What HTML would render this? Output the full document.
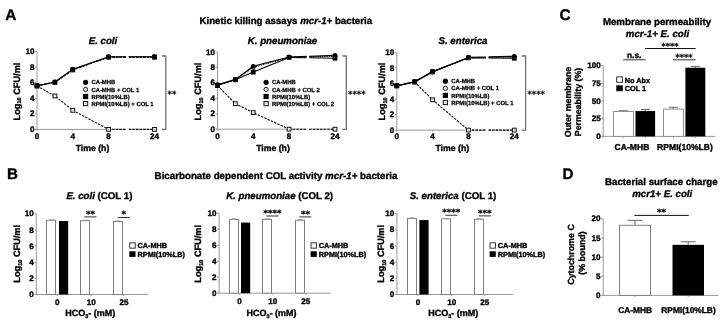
<!DOCTYPE html>
<html><head><meta charset="utf-8"><title>Figure</title>
<style>
html,body{margin:0;padding:0;background:#fff;}
body{width:720px;height:320px;overflow:hidden;}
svg{display:block;font-family:"Liberation Sans", Arial, Helvetica, sans-serif;filter:blur(0.25px);}
text{stroke:#000;stroke-width:0.35px;stroke-linejoin:round;text-rendering:geometricPrecision;}
</style></head><body>
<svg width="720" height="320" viewBox="0 0 720 320">
<rect x="0" y="0" width="720" height="320" fill="#fff"/>
<text x="5.30" y="20.10" font-size="15.4" text-anchor="start" font-weight="bold" font-style="normal" fill="#000" >A</text>
<text x="7.00" y="178.60" font-size="15.2" text-anchor="start" font-weight="bold" font-style="normal" fill="#000" >B</text>
<text x="559.40" y="19.90" font-size="15.4" text-anchor="start" font-weight="bold" font-style="normal" fill="#000" >C</text>
<text x="562.40" y="178.60" font-size="15.2" text-anchor="start" font-weight="bold" font-style="normal" fill="#000" >D</text>
<text x="199.50" y="24.20" font-size="9.7" text-anchor="start" font-weight="bold" font-style="normal" fill="#000" >Kinetic killing assays <tspan font-style="italic">mcr-1+</tspan> bacteria</text>
<text x="103.00" y="44.00" font-size="9.7" text-anchor="middle" font-weight="bold" font-style="italic" fill="#000" >E. coli</text>
<line x1="37.00" y1="51.70" x2="37.00" y2="129.90" stroke="#999" stroke-width="1" />
<line x1="35.00" y1="129.40" x2="37.00" y2="129.40" stroke="#999" stroke-width="1" />
<text x="34.40" y="132.00" font-size="8.1" text-anchor="end" font-weight="bold" font-style="normal" fill="#000" >0</text>
<line x1="35.00" y1="113.86" x2="37.00" y2="113.86" stroke="#999" stroke-width="1" />
<text x="34.40" y="116.46" font-size="8.1" text-anchor="end" font-weight="bold" font-style="normal" fill="#000" >2</text>
<line x1="35.00" y1="98.32" x2="37.00" y2="98.32" stroke="#999" stroke-width="1" />
<text x="34.40" y="100.92" font-size="8.1" text-anchor="end" font-weight="bold" font-style="normal" fill="#000" >4</text>
<line x1="35.00" y1="82.78" x2="37.00" y2="82.78" stroke="#999" stroke-width="1" />
<text x="34.40" y="85.38" font-size="8.1" text-anchor="end" font-weight="bold" font-style="normal" fill="#000" >6</text>
<line x1="35.00" y1="67.24" x2="37.00" y2="67.24" stroke="#999" stroke-width="1" />
<text x="34.40" y="69.84" font-size="8.1" text-anchor="end" font-weight="bold" font-style="normal" fill="#000" >8</text>
<line x1="35.00" y1="51.70" x2="37.00" y2="51.70" stroke="#999" stroke-width="1" />
<text x="34.40" y="54.30" font-size="8.1" text-anchor="end" font-weight="bold" font-style="normal" fill="#000" >10</text>
<line x1="35.80" y1="129.40" x2="126.20" y2="129.40" stroke="#999" stroke-width="1" />
<line x1="128.80" y1="129.40" x2="155.00" y2="129.40" stroke="#999" stroke-width="1" />
<line x1="37.00" y1="129.40" x2="37.00" y2="130.90" stroke="#999" stroke-width="1" />
<text x="37.00" y="139.10" font-size="8.1" text-anchor="middle" font-weight="bold" font-style="normal" fill="#000" >0</text>
<line x1="72.75" y1="129.40" x2="72.75" y2="130.90" stroke="#999" stroke-width="1" />
<text x="72.75" y="139.10" font-size="8.1" text-anchor="middle" font-weight="bold" font-style="normal" fill="#000" >4</text>
<line x1="108.60" y1="129.40" x2="108.60" y2="130.90" stroke="#999" stroke-width="1" />
<text x="108.60" y="139.10" font-size="8.1" text-anchor="middle" font-weight="bold" font-style="normal" fill="#000" >8</text>
<line x1="154.50" y1="129.40" x2="154.50" y2="130.90" stroke="#999" stroke-width="1" />
<text x="154.50" y="139.10" font-size="8.1" text-anchor="middle" font-weight="bold" font-style="normal" fill="#000" >24</text>
<text x="92.50" y="151.10" font-size="8.7" text-anchor="middle" font-weight="bold" font-style="normal" fill="#000" >Time (h)</text>
<text x="19.6" y="91.5" font-size="9.2" text-anchor="middle" font-weight="bold" transform="rotate(-90 19.6 91.5)">Log<tspan font-size="5.6" dy="1.8">10</tspan><tspan dy="-1.8"> CFU/ml</tspan></text>
<path d="M37.00,85.89 L54.90,95.99 L72.75,110.36 L108.60,129.40" fill="none" stroke="#000" stroke-width="1.1" stroke-dasharray="2.4,1.2"/>
<path d="M108.60,129.40 L126.20,129.40 M128.80,129.40 L154.50,129.40" fill="none" stroke="#000" stroke-width="1.1" stroke-dasharray="2.4,1.2"/>
<rect x="35.10" y="83.99" width="3.80" height="3.80" fill="#fff" stroke="#111" stroke-width="1.0"/>
<line x1="36.40" y1="85.89" x2="37.80" y2="85.89" stroke="#666" stroke-width="0.5"/>
<rect x="53.00" y="94.09" width="3.80" height="3.80" fill="#fff" stroke="#111" stroke-width="1.0"/>
<line x1="54.30" y1="95.99" x2="55.70" y2="95.99" stroke="#666" stroke-width="0.5"/>
<rect x="70.85" y="108.46" width="3.80" height="3.80" fill="#fff" stroke="#111" stroke-width="1.0"/>
<line x1="72.15" y1="110.36" x2="73.55" y2="110.36" stroke="#666" stroke-width="0.5"/>
<rect x="106.70" y="127.50" width="3.80" height="3.80" fill="#fff" stroke="#111" stroke-width="1.0"/>
<line x1="108.00" y1="129.40" x2="109.40" y2="129.40" stroke="#666" stroke-width="0.5"/>
<rect x="152.60" y="127.50" width="3.80" height="3.80" fill="#fff" stroke="#111" stroke-width="1.0"/>
<line x1="153.90" y1="129.40" x2="155.30" y2="129.40" stroke="#666" stroke-width="0.5"/>
<path d="M37.00,85.89 L54.90,82.39 L72.75,69.96 L108.60,57.14" fill="none" stroke="#000" stroke-width="1.1" stroke-dasharray="2.4,1.2"/>
<path d="M108.60,57.14 L126.20,57.14 M128.80,57.14 L154.50,57.14" fill="none" stroke="#000" stroke-width="1.1" stroke-dasharray="2.4,1.2"/>
<rect x="34.60" y="83.49" width="4.8" height="4.8" fill="#000"/>
<rect x="52.50" y="79.99" width="4.8" height="4.8" fill="#000"/>
<rect x="70.35" y="67.56" width="4.8" height="4.8" fill="#000"/>
<rect x="106.20" y="54.74" width="4.8" height="4.8" fill="#000"/>
<rect x="152.10" y="54.74" width="4.8" height="4.8" fill="#000"/>
<path d="M37.00,85.89 L54.90,82.00 L72.75,69.57 L108.60,57.14" fill="none" stroke="#000" stroke-width="1.1" stroke-dasharray="1,0.8"/>
<path d="M108.60,57.14 L126.20,57.14 M128.80,57.14 L154.50,57.14" fill="none" stroke="#000" stroke-width="1.1" stroke-dasharray="1,0.8"/>
<circle cx="37.00" cy="85.89" r="1.90" fill="#fff" stroke="#111" stroke-width="1.0"/>
<line x1="36.40" y1="85.89" x2="37.80" y2="85.89" stroke="#666" stroke-width="0.5"/>
<circle cx="54.90" cy="82.00" r="1.90" fill="#fff" stroke="#111" stroke-width="1.0"/>
<line x1="54.30" y1="82.00" x2="55.70" y2="82.00" stroke="#666" stroke-width="0.5"/>
<circle cx="72.75" cy="69.57" r="1.90" fill="#fff" stroke="#111" stroke-width="1.0"/>
<line x1="72.15" y1="69.57" x2="73.55" y2="69.57" stroke="#666" stroke-width="0.5"/>
<circle cx="108.60" cy="57.14" r="1.90" fill="#fff" stroke="#111" stroke-width="1.0"/>
<line x1="108.00" y1="57.14" x2="109.40" y2="57.14" stroke="#666" stroke-width="0.5"/>
<circle cx="154.50" cy="57.14" r="1.90" fill="#fff" stroke="#111" stroke-width="1.0"/>
<line x1="153.90" y1="57.14" x2="155.30" y2="57.14" stroke="#666" stroke-width="0.5"/>
<path d="M37.00,85.89 L54.90,82.00 L72.75,69.18 L108.60,56.75" fill="none" stroke="#000" stroke-width="1.2" />
<path d="M108.60,56.75 L126.20,56.75 M128.80,56.75 L154.50,56.75" fill="none" stroke="#000" stroke-width="1.2" />
<circle cx="37.00" cy="85.89" r="2.4" fill="#000"/>
<circle cx="54.90" cy="82.00" r="2.4" fill="#000"/>
<circle cx="72.75" cy="69.18" r="2.4" fill="#000"/>
<circle cx="108.60" cy="56.75" r="2.4" fill="#000"/>
<circle cx="154.50" cy="56.75" r="2.4" fill="#000"/>
<path d="M161.90,56 H165.80 V129.50 H161.90" fill="none" stroke="#707070" stroke-width="1.3"/>
<text x="167.60" y="97.31" font-size="8.4" text-anchor="start" font-weight="bold" font-style="normal" fill="#000" font-family="DejaVu Sans, sans-serif" style="stroke-width:0.2px">**</text>
<circle cx="85.60" cy="82.30" r="2.6" fill="#000"/>
<text x="91.40" y="84.40" font-size="5.9" text-anchor="start" font-weight="bold" font-style="normal" fill="#000" style="stroke-width:0.25px">CA-MHB</text>
<circle cx="85.60" cy="89.40" r="2.10" fill="#fff" stroke="#111" stroke-width="1.0"/>
<line x1="85.00" y1="89.40" x2="86.40" y2="89.40" stroke="#666" stroke-width="0.5"/>
<text x="91.40" y="91.50" font-size="5.9" text-anchor="start" font-weight="bold" font-style="normal" fill="#000" style="stroke-width:0.25px">CA-MHB + COL 1</text>
<rect x="83.00" y="93.90" width="5.2" height="5.2" fill="#000"/>
<text x="91.40" y="98.60" font-size="5.9" text-anchor="start" font-weight="bold" font-style="normal" fill="#000" style="stroke-width:0.25px">RPMI(10%LB)</text>
<rect x="83.50" y="101.50" width="4.20" height="4.20" fill="#fff" stroke="#111" stroke-width="1.0"/>
<line x1="85.00" y1="103.60" x2="86.40" y2="103.60" stroke="#666" stroke-width="0.5"/>
<text x="91.40" y="105.70" font-size="5.9" text-anchor="start" font-weight="bold" font-style="normal" fill="#000" style="stroke-width:0.25px">RPMI(10%LB) + COL 1</text>
<text x="282.50" y="44.00" font-size="9.7" text-anchor="middle" font-weight="bold" font-style="italic" fill="#000" >K. pneumoniae</text>
<line x1="217.50" y1="52.00" x2="217.50" y2="129.70" stroke="#999" stroke-width="1" />
<line x1="215.50" y1="129.20" x2="217.50" y2="129.20" stroke="#999" stroke-width="1" />
<text x="214.90" y="131.80" font-size="8.1" text-anchor="end" font-weight="bold" font-style="normal" fill="#000" >0</text>
<line x1="215.50" y1="113.76" x2="217.50" y2="113.76" stroke="#999" stroke-width="1" />
<text x="214.90" y="116.36" font-size="8.1" text-anchor="end" font-weight="bold" font-style="normal" fill="#000" >2</text>
<line x1="215.50" y1="98.32" x2="217.50" y2="98.32" stroke="#999" stroke-width="1" />
<text x="214.90" y="100.92" font-size="8.1" text-anchor="end" font-weight="bold" font-style="normal" fill="#000" >4</text>
<line x1="215.50" y1="82.88" x2="217.50" y2="82.88" stroke="#999" stroke-width="1" />
<text x="214.90" y="85.48" font-size="8.1" text-anchor="end" font-weight="bold" font-style="normal" fill="#000" >6</text>
<line x1="215.50" y1="67.44" x2="217.50" y2="67.44" stroke="#999" stroke-width="1" />
<text x="214.90" y="70.04" font-size="8.1" text-anchor="end" font-weight="bold" font-style="normal" fill="#000" >8</text>
<line x1="215.50" y1="52.00" x2="217.50" y2="52.00" stroke="#999" stroke-width="1" />
<text x="214.90" y="54.60" font-size="8.1" text-anchor="end" font-weight="bold" font-style="normal" fill="#000" >10</text>
<line x1="216.30" y1="129.20" x2="306.70" y2="129.20" stroke="#999" stroke-width="1" />
<line x1="309.30" y1="129.20" x2="335.50" y2="129.20" stroke="#999" stroke-width="1" />
<line x1="217.50" y1="129.20" x2="217.50" y2="130.70" stroke="#999" stroke-width="1" />
<text x="217.50" y="139.10" font-size="8.1" text-anchor="middle" font-weight="bold" font-style="normal" fill="#000" >0</text>
<line x1="253.25" y1="129.20" x2="253.25" y2="130.70" stroke="#999" stroke-width="1" />
<text x="253.25" y="139.10" font-size="8.1" text-anchor="middle" font-weight="bold" font-style="normal" fill="#000" >4</text>
<line x1="289.10" y1="129.20" x2="289.10" y2="130.70" stroke="#999" stroke-width="1" />
<text x="289.10" y="139.10" font-size="8.1" text-anchor="middle" font-weight="bold" font-style="normal" fill="#000" >8</text>
<line x1="335.00" y1="129.20" x2="335.00" y2="130.70" stroke="#999" stroke-width="1" />
<text x="335.00" y="139.10" font-size="8.1" text-anchor="middle" font-weight="bold" font-style="normal" fill="#000" >24</text>
<text x="273.00" y="151.10" font-size="8.7" text-anchor="middle" font-weight="bold" font-style="normal" fill="#000" >Time (h)</text>
<text x="201.1" y="91.5" font-size="9.2" text-anchor="middle" font-weight="bold" transform="rotate(-90 201.1 91.5)">Log<tspan font-size="5.6" dy="1.8">10</tspan><tspan dy="-1.8"> CFU/ml</tspan></text>
<path d="M217.50,85.58 L235.40,103.72 L253.25,112.60 L289.10,129.20" fill="none" stroke="#000" stroke-width="1.1" stroke-dasharray="2.4,1.2"/>
<path d="M289.10,129.20 L306.70,129.20 M309.30,129.20 L335.00,129.20" fill="none" stroke="#000" stroke-width="1.1" stroke-dasharray="2.4,1.2"/>
<rect x="215.60" y="83.68" width="3.80" height="3.80" fill="#fff" stroke="#111" stroke-width="1.0"/>
<line x1="216.90" y1="85.58" x2="218.30" y2="85.58" stroke="#666" stroke-width="0.5"/>
<rect x="233.50" y="101.82" width="3.80" height="3.80" fill="#fff" stroke="#111" stroke-width="1.0"/>
<line x1="234.80" y1="103.72" x2="236.20" y2="103.72" stroke="#666" stroke-width="0.5"/>
<rect x="251.35" y="110.70" width="3.80" height="3.80" fill="#fff" stroke="#111" stroke-width="1.0"/>
<line x1="252.65" y1="112.60" x2="254.05" y2="112.60" stroke="#666" stroke-width="0.5"/>
<rect x="287.20" y="127.30" width="3.80" height="3.80" fill="#fff" stroke="#111" stroke-width="1.0"/>
<line x1="288.50" y1="129.20" x2="289.90" y2="129.20" stroke="#666" stroke-width="0.5"/>
<rect x="333.10" y="127.30" width="3.80" height="3.80" fill="#fff" stroke="#111" stroke-width="1.0"/>
<line x1="334.40" y1="129.20" x2="335.80" y2="129.20" stroke="#666" stroke-width="0.5"/>
<path d="M217.50,85.20 L235.40,79.79 L253.25,72.07 L289.10,57.40" fill="none" stroke="#000" stroke-width="1.1" />
<path d="M289.10,57.40 L306.70,57.70 M309.30,57.74 L335.00,58.18" fill="none" stroke="#000" stroke-width="1.1" />
<rect x="215.10" y="82.80" width="4.8" height="4.8" fill="#000"/>
<rect x="233.00" y="77.39" width="4.8" height="4.8" fill="#000"/>
<rect x="250.85" y="69.67" width="4.8" height="4.8" fill="#000"/>
<rect x="286.70" y="55.00" width="4.8" height="4.8" fill="#000"/>
<rect x="332.60" y="55.78" width="4.8" height="4.8" fill="#000"/>
<path d="M217.50,85.20 L235.40,79.79 L253.25,67.44 L289.10,57.40" fill="none" stroke="#000" stroke-width="1.1" stroke-dasharray="1,0.8"/>
<path d="M289.10,57.40 L306.70,56.96 M309.30,56.89 L335.00,56.25" fill="none" stroke="#000" stroke-width="1.1" stroke-dasharray="1,0.8"/>
<circle cx="217.50" cy="85.20" r="1.90" fill="#fff" stroke="#111" stroke-width="1.0"/>
<line x1="216.90" y1="85.20" x2="218.30" y2="85.20" stroke="#666" stroke-width="0.5"/>
<circle cx="235.40" cy="79.79" r="1.90" fill="#fff" stroke="#111" stroke-width="1.0"/>
<line x1="234.80" y1="79.79" x2="236.20" y2="79.79" stroke="#666" stroke-width="0.5"/>
<circle cx="253.25" cy="67.44" r="1.90" fill="#fff" stroke="#111" stroke-width="1.0"/>
<line x1="252.65" y1="67.44" x2="254.05" y2="67.44" stroke="#666" stroke-width="0.5"/>
<circle cx="289.10" cy="57.40" r="1.90" fill="#fff" stroke="#111" stroke-width="1.0"/>
<line x1="288.50" y1="57.40" x2="289.90" y2="57.40" stroke="#666" stroke-width="0.5"/>
<circle cx="335.00" cy="56.25" r="1.90" fill="#fff" stroke="#111" stroke-width="1.0"/>
<line x1="334.40" y1="56.25" x2="335.80" y2="56.25" stroke="#666" stroke-width="0.5"/>
<path d="M217.50,84.81 L235.40,79.41 L253.25,66.28 L289.10,57.02" fill="none" stroke="#000" stroke-width="1.2" />
<path d="M289.10,57.02 L306.70,56.43 M309.30,56.34 L335.00,55.47" fill="none" stroke="#000" stroke-width="1.2" />
<circle cx="217.50" cy="84.81" r="2.4" fill="#000"/>
<circle cx="235.40" cy="79.41" r="2.4" fill="#000"/>
<circle cx="253.25" cy="66.28" r="2.4" fill="#000"/>
<circle cx="289.10" cy="57.02" r="2.4" fill="#000"/>
<circle cx="335.00" cy="55.47" r="2.4" fill="#000"/>
<path d="M342.40,56 H346.30 V129.30 H342.40" fill="none" stroke="#707070" stroke-width="1.3"/>
<text x="348.10" y="97.31" font-size="8.4" text-anchor="start" font-weight="bold" font-style="normal" fill="#000" font-family="DejaVu Sans, sans-serif" style="stroke-width:0.2px">****</text>
<circle cx="266.10" cy="82.30" r="2.6" fill="#000"/>
<text x="271.90" y="84.40" font-size="5.9" text-anchor="start" font-weight="bold" font-style="normal" fill="#000" style="stroke-width:0.25px">CA-MHB</text>
<circle cx="266.10" cy="89.40" r="2.10" fill="#fff" stroke="#111" stroke-width="1.0"/>
<line x1="265.50" y1="89.40" x2="266.90" y2="89.40" stroke="#666" stroke-width="0.5"/>
<text x="271.90" y="91.50" font-size="5.9" text-anchor="start" font-weight="bold" font-style="normal" fill="#000" style="stroke-width:0.25px">CA-MHB + COL 2</text>
<rect x="263.50" y="93.90" width="5.2" height="5.2" fill="#000"/>
<text x="271.90" y="98.60" font-size="5.9" text-anchor="start" font-weight="bold" font-style="normal" fill="#000" style="stroke-width:0.25px">RPMI(10%LB)</text>
<rect x="264.00" y="101.50" width="4.20" height="4.20" fill="#fff" stroke="#111" stroke-width="1.0"/>
<line x1="265.50" y1="103.60" x2="266.90" y2="103.60" stroke="#666" stroke-width="0.5"/>
<text x="271.90" y="105.70" font-size="5.9" text-anchor="start" font-weight="bold" font-style="normal" fill="#000" style="stroke-width:0.25px">RPMI(10%LB) + COL 2</text>
<text x="463.00" y="44.00" font-size="9.7" text-anchor="middle" font-weight="bold" font-style="italic" fill="#000" >S. enterica</text>
<line x1="396.80" y1="52.40" x2="396.80" y2="130.60" stroke="#999" stroke-width="1" />
<line x1="394.80" y1="130.10" x2="396.80" y2="130.10" stroke="#999" stroke-width="1" />
<text x="394.20" y="132.70" font-size="8.1" text-anchor="end" font-weight="bold" font-style="normal" fill="#000" >0</text>
<line x1="394.80" y1="114.56" x2="396.80" y2="114.56" stroke="#999" stroke-width="1" />
<text x="394.20" y="117.16" font-size="8.1" text-anchor="end" font-weight="bold" font-style="normal" fill="#000" >2</text>
<line x1="394.80" y1="99.02" x2="396.80" y2="99.02" stroke="#999" stroke-width="1" />
<text x="394.20" y="101.62" font-size="8.1" text-anchor="end" font-weight="bold" font-style="normal" fill="#000" >4</text>
<line x1="394.80" y1="83.48" x2="396.80" y2="83.48" stroke="#999" stroke-width="1" />
<text x="394.20" y="86.08" font-size="8.1" text-anchor="end" font-weight="bold" font-style="normal" fill="#000" >6</text>
<line x1="394.80" y1="67.94" x2="396.80" y2="67.94" stroke="#999" stroke-width="1" />
<text x="394.20" y="70.54" font-size="8.1" text-anchor="end" font-weight="bold" font-style="normal" fill="#000" >8</text>
<line x1="394.80" y1="52.40" x2="396.80" y2="52.40" stroke="#999" stroke-width="1" />
<text x="394.20" y="55.00" font-size="8.1" text-anchor="end" font-weight="bold" font-style="normal" fill="#000" >10</text>
<line x1="395.60" y1="130.10" x2="486.00" y2="130.10" stroke="#999" stroke-width="1" />
<line x1="488.60" y1="130.10" x2="514.80" y2="130.10" stroke="#999" stroke-width="1" />
<line x1="396.80" y1="130.10" x2="396.80" y2="131.60" stroke="#999" stroke-width="1" />
<text x="396.80" y="139.10" font-size="8.1" text-anchor="middle" font-weight="bold" font-style="normal" fill="#000" >0</text>
<line x1="432.55" y1="130.10" x2="432.55" y2="131.60" stroke="#999" stroke-width="1" />
<text x="432.55" y="139.10" font-size="8.1" text-anchor="middle" font-weight="bold" font-style="normal" fill="#000" >4</text>
<line x1="468.40" y1="130.10" x2="468.40" y2="131.60" stroke="#999" stroke-width="1" />
<text x="468.40" y="139.10" font-size="8.1" text-anchor="middle" font-weight="bold" font-style="normal" fill="#000" >8</text>
<line x1="514.30" y1="130.10" x2="514.30" y2="131.60" stroke="#999" stroke-width="1" />
<text x="514.30" y="139.10" font-size="8.1" text-anchor="middle" font-weight="bold" font-style="normal" fill="#000" >24</text>
<text x="452.30" y="151.10" font-size="8.7" text-anchor="middle" font-weight="bold" font-style="normal" fill="#000" >Time (h)</text>
<text x="385.40000000000003" y="91.5" font-size="9.2" text-anchor="middle" font-weight="bold" transform="rotate(-90 385.40000000000003 91.5)">Log<tspan font-size="5.6" dy="1.8">10</tspan><tspan dy="-1.8"> CFU/ml</tspan></text>
<path d="M396.80,85.81 L414.70,81.93 L432.55,99.80 L468.40,130.10" fill="none" stroke="#000" stroke-width="1.1" stroke-dasharray="2.4,1.2"/>
<path d="M468.40,130.10 L486.00,130.10 M488.60,130.10 L514.30,130.10" fill="none" stroke="#000" stroke-width="1.1" stroke-dasharray="2.4,1.2"/>
<rect x="394.90" y="83.91" width="3.80" height="3.80" fill="#fff" stroke="#111" stroke-width="1.0"/>
<line x1="396.20" y1="85.81" x2="397.60" y2="85.81" stroke="#666" stroke-width="0.5"/>
<rect x="412.80" y="80.03" width="3.80" height="3.80" fill="#fff" stroke="#111" stroke-width="1.0"/>
<line x1="414.10" y1="81.93" x2="415.50" y2="81.93" stroke="#666" stroke-width="0.5"/>
<rect x="430.65" y="97.90" width="3.80" height="3.80" fill="#fff" stroke="#111" stroke-width="1.0"/>
<line x1="431.95" y1="99.80" x2="433.35" y2="99.80" stroke="#666" stroke-width="0.5"/>
<rect x="466.50" y="128.20" width="3.80" height="3.80" fill="#fff" stroke="#111" stroke-width="1.0"/>
<line x1="467.80" y1="130.10" x2="469.20" y2="130.10" stroke="#666" stroke-width="0.5"/>
<rect x="512.40" y="128.20" width="3.80" height="3.80" fill="#fff" stroke="#111" stroke-width="1.0"/>
<line x1="513.70" y1="130.10" x2="515.10" y2="130.10" stroke="#666" stroke-width="0.5"/>
<path d="M396.80,85.81 L414.70,81.93 L432.55,71.83 L468.40,57.84" fill="none" stroke="#000" stroke-width="1.1" />
<path d="M468.40,57.84 L486.00,57.99 M488.60,58.01 L514.30,58.23" fill="none" stroke="#000" stroke-width="1.1" />
<rect x="394.40" y="83.41" width="4.8" height="4.8" fill="#000"/>
<rect x="412.30" y="79.53" width="4.8" height="4.8" fill="#000"/>
<rect x="430.15" y="69.42" width="4.8" height="4.8" fill="#000"/>
<rect x="466.00" y="55.44" width="4.8" height="4.8" fill="#000"/>
<rect x="511.90" y="55.83" width="4.8" height="4.8" fill="#000"/>
<path d="M396.80,85.81 L414.70,81.93 L432.55,72.21 L468.40,57.84" fill="none" stroke="#000" stroke-width="1.1" stroke-dasharray="1,0.8"/>
<path d="M468.40,57.84 L486.00,57.54 M488.60,57.50 L514.30,57.06" fill="none" stroke="#000" stroke-width="1.1" stroke-dasharray="1,0.8"/>
<circle cx="396.80" cy="85.81" r="1.90" fill="#fff" stroke="#111" stroke-width="1.0"/>
<line x1="396.20" y1="85.81" x2="397.60" y2="85.81" stroke="#666" stroke-width="0.5"/>
<circle cx="414.70" cy="81.93" r="1.90" fill="#fff" stroke="#111" stroke-width="1.0"/>
<line x1="414.10" y1="81.93" x2="415.50" y2="81.93" stroke="#666" stroke-width="0.5"/>
<circle cx="432.55" cy="72.21" r="1.90" fill="#fff" stroke="#111" stroke-width="1.0"/>
<line x1="431.95" y1="72.21" x2="433.35" y2="72.21" stroke="#666" stroke-width="0.5"/>
<circle cx="468.40" cy="57.84" r="1.90" fill="#fff" stroke="#111" stroke-width="1.0"/>
<line x1="467.80" y1="57.84" x2="469.20" y2="57.84" stroke="#666" stroke-width="0.5"/>
<circle cx="514.30" cy="57.06" r="1.90" fill="#fff" stroke="#111" stroke-width="1.0"/>
<line x1="513.70" y1="57.06" x2="515.10" y2="57.06" stroke="#666" stroke-width="0.5"/>
<path d="M396.80,85.81 L414.70,81.54 L432.55,71.44 L468.40,57.45" fill="none" stroke="#000" stroke-width="1.2" />
<path d="M468.40,57.45 L486.00,57.00 M488.60,56.94 L514.30,56.29" fill="none" stroke="#000" stroke-width="1.2" />
<circle cx="396.80" cy="85.81" r="2.4" fill="#000"/>
<circle cx="414.70" cy="81.54" r="2.4" fill="#000"/>
<circle cx="432.55" cy="71.44" r="2.4" fill="#000"/>
<circle cx="468.40" cy="57.45" r="2.4" fill="#000"/>
<circle cx="514.30" cy="56.29" r="2.4" fill="#000"/>
<path d="M521.70,56 H525.60 V130.20 H521.70" fill="none" stroke="#707070" stroke-width="1.3"/>
<text x="527.40" y="97.31" font-size="8.4" text-anchor="start" font-weight="bold" font-style="normal" fill="#000" font-family="DejaVu Sans, sans-serif" style="stroke-width:0.2px">****</text>
<circle cx="445.40" cy="81.20" r="2.6" fill="#000"/>
<text x="451.20" y="83.30" font-size="5.9" text-anchor="start" font-weight="bold" font-style="normal" fill="#000" style="stroke-width:0.25px">CA-MHB</text>
<circle cx="445.40" cy="88.30" r="2.10" fill="#fff" stroke="#111" stroke-width="1.0"/>
<line x1="444.80" y1="88.30" x2="446.20" y2="88.30" stroke="#666" stroke-width="0.5"/>
<text x="451.20" y="90.40" font-size="5.9" text-anchor="start" font-weight="bold" font-style="normal" fill="#000" style="stroke-width:0.25px">CA-MHB + COL 1</text>
<rect x="442.80" y="92.80" width="5.2" height="5.2" fill="#000"/>
<text x="451.20" y="97.50" font-size="5.9" text-anchor="start" font-weight="bold" font-style="normal" fill="#000" style="stroke-width:0.25px">RPMI(10%LB)</text>
<rect x="443.30" y="100.40" width="4.20" height="4.20" fill="#fff" stroke="#111" stroke-width="1.0"/>
<line x1="444.80" y1="102.50" x2="446.20" y2="102.50" stroke="#666" stroke-width="0.5"/>
<text x="451.20" y="104.60" font-size="5.9" text-anchor="start" font-weight="bold" font-style="normal" fill="#000" style="stroke-width:0.25px">RPMI(10%LB) + COL 1</text>
<text x="154.60" y="179.40" font-size="9.75" text-anchor="start" font-weight="bold" font-style="normal" fill="#000" >Bicarbonate dependent COL activity <tspan font-style="italic">mcr-1+</tspan> bacteria</text>
<text x="99.40" y="199.30" font-size="9.7" text-anchor="middle" font-weight="bold" font-style="normal" fill="#000" ><tspan font-style="italic">E. coli</tspan> (COL 1)</text>
<line x1="36.30" y1="213.80" x2="36.30" y2="295.00" stroke="#999" stroke-width="1" />
<line x1="34.30" y1="294.50" x2="36.30" y2="294.50" stroke="#999" stroke-width="1" />
<text x="33.70" y="297.10" font-size="8.1" text-anchor="end" font-weight="bold" font-style="normal" fill="#000" >0</text>
<line x1="34.30" y1="278.36" x2="36.30" y2="278.36" stroke="#999" stroke-width="1" />
<text x="33.70" y="280.96" font-size="8.1" text-anchor="end" font-weight="bold" font-style="normal" fill="#000" >2</text>
<line x1="34.30" y1="262.22" x2="36.30" y2="262.22" stroke="#999" stroke-width="1" />
<text x="33.70" y="264.82" font-size="8.1" text-anchor="end" font-weight="bold" font-style="normal" fill="#000" >4</text>
<line x1="34.30" y1="246.08" x2="36.30" y2="246.08" stroke="#999" stroke-width="1" />
<text x="33.70" y="248.68" font-size="8.1" text-anchor="end" font-weight="bold" font-style="normal" fill="#000" >6</text>
<line x1="34.30" y1="229.94" x2="36.30" y2="229.94" stroke="#999" stroke-width="1" />
<text x="33.70" y="232.54" font-size="8.1" text-anchor="end" font-weight="bold" font-style="normal" fill="#000" >8</text>
<line x1="34.30" y1="213.80" x2="36.30" y2="213.80" stroke="#999" stroke-width="1" />
<text x="33.70" y="216.40" font-size="8.1" text-anchor="end" font-weight="bold" font-style="normal" fill="#000" >10</text>
<line x1="35.30" y1="294.50" x2="148.10" y2="294.50" stroke="#999" stroke-width="1" />
<text x="20.299999999999997" y="253.8" font-size="9.2" text-anchor="middle" font-weight="bold" transform="rotate(-90 20.299999999999997 253.8)">Log<tspan font-size="5.6" dy="1.8">10</tspan><tspan dy="-1.8"> CFU/ml</tspan></text>
<line x1="57.35" y1="294.50" x2="57.35" y2="296.10" stroke="#999" stroke-width="1" />
<text x="57.35" y="304.90" font-size="8.1" text-anchor="middle" font-weight="bold" font-style="normal" fill="#000" >0</text>
<rect x="46.50" y="220.26" width="9.00" height="74.24" fill="#fff" stroke="#808080" stroke-width="1.0" />
<line x1="49.00" y1="219.76" x2="54.00" y2="219.76" stroke="#8a8a8a" stroke-width="0.8" />
<rect x="59.00" y="221.06" width="9.20" height="73.44" fill="#000" stroke="none" stroke-width="1" />
<line x1="91.15" y1="294.50" x2="91.15" y2="296.10" stroke="#999" stroke-width="1" />
<text x="91.15" y="304.90" font-size="8.1" text-anchor="middle" font-weight="bold" font-style="normal" fill="#000" >10</text>
<rect x="80.50" y="220.66" width="9.00" height="73.84" fill="#fff" stroke="#808080" stroke-width="1.0" />
<line x1="82.80" y1="220.16" x2="87.80" y2="220.16" stroke="#8a8a8a" stroke-width="0.8" />
<line x1="123.95" y1="294.50" x2="123.95" y2="296.10" stroke="#999" stroke-width="1" />
<text x="123.95" y="304.90" font-size="8.1" text-anchor="middle" font-weight="bold" font-style="normal" fill="#000" >25</text>
<rect x="113.50" y="221.47" width="9.00" height="73.03" fill="#fff" stroke="#808080" stroke-width="1.0" />
<line x1="115.60" y1="220.97" x2="120.60" y2="220.97" stroke="#8a8a8a" stroke-width="0.8" />
<text x="90.30" y="316.00" font-size="9.0" text-anchor="middle" font-weight="bold" font-style="normal" fill="#000" >HCO<tspan font-size="5.5" dy="1.8">3</tspan><tspan dy="-1.8">- (mM)</tspan></text>
<line x1="84.40" y1="216.90" x2="96.50" y2="216.90" stroke="#333" stroke-width="1" />
<text x="90.60" y="216.71" font-size="8.6" text-anchor="middle" font-weight="bold" font-style="normal" fill="#000" font-family="DejaVu Sans, sans-serif" style="stroke-width:0.2px">**</text>
<line x1="117.75" y1="217.50" x2="130.00" y2="217.50" stroke="#333" stroke-width="1" />
<text x="123.75" y="217.41" font-size="8.6" text-anchor="middle" font-weight="bold" font-style="normal" fill="#000" font-family="DejaVu Sans, sans-serif" style="stroke-width:0.2px">*</text>
<rect x="129.75" y="242.85" width="5.50" height="5.30" fill="#fff" stroke="#222" stroke-width="0.9" />
<rect x="129.30" y="251.30" width="6.20" height="5.60" fill="#000" stroke="none" stroke-width="1" />
<text x="137.50" y="248.30" font-size="7.3" text-anchor="start" font-weight="bold" font-style="normal" fill="#000" >CA-MHB</text>
<text x="137.50" y="257.10" font-size="7.3" text-anchor="start" font-weight="bold" font-style="normal" fill="#000" >RPMI(10%LB)</text>
<text x="279.60" y="199.30" font-size="9.7" text-anchor="middle" font-weight="bold" font-style="normal" fill="#000" ><tspan font-style="italic">K. pneumoniae</tspan> (COL 2)</text>
<line x1="219.10" y1="213.40" x2="219.10" y2="293.70" stroke="#999" stroke-width="1" />
<line x1="217.10" y1="293.20" x2="219.10" y2="293.20" stroke="#999" stroke-width="1" />
<text x="216.50" y="295.80" font-size="8.1" text-anchor="end" font-weight="bold" font-style="normal" fill="#000" >0</text>
<line x1="217.10" y1="277.24" x2="219.10" y2="277.24" stroke="#999" stroke-width="1" />
<text x="216.50" y="279.84" font-size="8.1" text-anchor="end" font-weight="bold" font-style="normal" fill="#000" >2</text>
<line x1="217.10" y1="261.28" x2="219.10" y2="261.28" stroke="#999" stroke-width="1" />
<text x="216.50" y="263.88" font-size="8.1" text-anchor="end" font-weight="bold" font-style="normal" fill="#000" >4</text>
<line x1="217.10" y1="245.32" x2="219.10" y2="245.32" stroke="#999" stroke-width="1" />
<text x="216.50" y="247.92" font-size="8.1" text-anchor="end" font-weight="bold" font-style="normal" fill="#000" >6</text>
<line x1="217.10" y1="229.36" x2="219.10" y2="229.36" stroke="#999" stroke-width="1" />
<text x="216.50" y="231.96" font-size="8.1" text-anchor="end" font-weight="bold" font-style="normal" fill="#000" >8</text>
<line x1="217.10" y1="213.40" x2="219.10" y2="213.40" stroke="#999" stroke-width="1" />
<text x="216.50" y="216.00" font-size="8.1" text-anchor="end" font-weight="bold" font-style="normal" fill="#000" >10</text>
<line x1="218.10" y1="293.20" x2="330.90" y2="293.20" stroke="#999" stroke-width="1" />
<text x="200.9" y="253.8" font-size="9.2" text-anchor="middle" font-weight="bold" transform="rotate(-90 200.9 253.8)">Log<tspan font-size="5.6" dy="1.8">10</tspan><tspan dy="-1.8"> CFU/ml</tspan></text>
<line x1="239.60" y1="293.20" x2="239.60" y2="294.80" stroke="#999" stroke-width="1" />
<text x="239.60" y="303.60" font-size="8.1" text-anchor="middle" font-weight="bold" font-style="normal" fill="#000" >0</text>
<rect x="229.50" y="219.38" width="9.00" height="73.81" fill="#fff" stroke="#808080" stroke-width="1.0" />
<line x1="231.50" y1="218.88" x2="236.50" y2="218.88" stroke="#8a8a8a" stroke-width="0.8" />
<rect x="241.00" y="222.58" width="9.20" height="70.62" fill="#000" stroke="none" stroke-width="1" />
<line x1="272.85" y1="293.20" x2="272.85" y2="294.80" stroke="#999" stroke-width="1" />
<text x="272.85" y="303.60" font-size="8.1" text-anchor="middle" font-weight="bold" font-style="normal" fill="#000" >10</text>
<rect x="262.50" y="219.38" width="9.00" height="73.81" fill="#fff" stroke="#808080" stroke-width="1.0" />
<line x1="264.75" y1="218.88" x2="269.75" y2="218.88" stroke="#8a8a8a" stroke-width="0.8" />
<line x1="305.85" y1="293.20" x2="305.85" y2="294.80" stroke="#999" stroke-width="1" />
<text x="305.85" y="303.60" font-size="8.1" text-anchor="middle" font-weight="bold" font-style="normal" fill="#000" >25</text>
<rect x="295.50" y="220.18" width="9.00" height="73.02" fill="#fff" stroke="#808080" stroke-width="1.0" />
<line x1="297.75" y1="219.68" x2="302.75" y2="219.68" stroke="#8a8a8a" stroke-width="0.8" />
<text x="271.60" y="316.00" font-size="9.0" text-anchor="middle" font-weight="bold" font-style="normal" fill="#000" >HCO<tspan font-size="5.5" dy="1.8">3</tspan><tspan dy="-1.8">- (mM)</tspan></text>
<line x1="266.25" y1="216.00" x2="278.50" y2="216.00" stroke="#333" stroke-width="1" />
<text x="272.50" y="216.01" font-size="8.6" text-anchor="middle" font-weight="bold" font-style="normal" fill="#000" font-family="DejaVu Sans, sans-serif" style="stroke-width:0.2px">****</text>
<line x1="299.40" y1="216.90" x2="311.25" y2="216.90" stroke="#333" stroke-width="1" />
<text x="305.50" y="217.01" font-size="8.6" text-anchor="middle" font-weight="bold" font-style="normal" fill="#000" font-family="DejaVu Sans, sans-serif" style="stroke-width:0.2px">**</text>
<rect x="311.05" y="242.85" width="5.50" height="5.30" fill="#fff" stroke="#222" stroke-width="0.9" />
<rect x="310.60" y="251.30" width="6.20" height="5.60" fill="#000" stroke="none" stroke-width="1" />
<text x="318.80" y="248.30" font-size="7.3" text-anchor="start" font-weight="bold" font-style="normal" fill="#000" >CA-MHB</text>
<text x="318.80" y="257.10" font-size="7.3" text-anchor="start" font-weight="bold" font-style="normal" fill="#000" >RPMI(10%LB)</text>
<text x="453.00" y="199.30" font-size="9.7" text-anchor="middle" font-weight="bold" font-style="normal" fill="#000" ><tspan font-style="italic">S. enterica</tspan> (COL 1)</text>
<line x1="396.90" y1="213.60" x2="396.90" y2="295.00" stroke="#999" stroke-width="1" />
<line x1="394.90" y1="294.50" x2="396.90" y2="294.50" stroke="#999" stroke-width="1" />
<text x="394.30" y="297.10" font-size="8.1" text-anchor="end" font-weight="bold" font-style="normal" fill="#000" >0</text>
<line x1="394.90" y1="278.32" x2="396.90" y2="278.32" stroke="#999" stroke-width="1" />
<text x="394.30" y="280.92" font-size="8.1" text-anchor="end" font-weight="bold" font-style="normal" fill="#000" >2</text>
<line x1="394.90" y1="262.14" x2="396.90" y2="262.14" stroke="#999" stroke-width="1" />
<text x="394.30" y="264.74" font-size="8.1" text-anchor="end" font-weight="bold" font-style="normal" fill="#000" >4</text>
<line x1="394.90" y1="245.96" x2="396.90" y2="245.96" stroke="#999" stroke-width="1" />
<text x="394.30" y="248.56" font-size="8.1" text-anchor="end" font-weight="bold" font-style="normal" fill="#000" >6</text>
<line x1="394.90" y1="229.78" x2="396.90" y2="229.78" stroke="#999" stroke-width="1" />
<text x="394.30" y="232.38" font-size="8.1" text-anchor="end" font-weight="bold" font-style="normal" fill="#000" >8</text>
<line x1="394.90" y1="213.60" x2="396.90" y2="213.60" stroke="#999" stroke-width="1" />
<text x="394.30" y="216.20" font-size="8.1" text-anchor="end" font-weight="bold" font-style="normal" fill="#000" >10</text>
<line x1="395.90" y1="294.50" x2="512.80" y2="294.50" stroke="#999" stroke-width="1" />
<text x="384.2" y="253.8" font-size="9.2" text-anchor="middle" font-weight="bold" transform="rotate(-90 384.2 253.8)">Log<tspan font-size="5.6" dy="1.8">10</tspan><tspan dy="-1.8"> CFU/ml</tspan></text>
<line x1="417.93" y1="294.50" x2="417.93" y2="296.10" stroke="#999" stroke-width="1" />
<text x="417.93" y="304.90" font-size="8.1" text-anchor="middle" font-weight="bold" font-style="normal" fill="#000" >0</text>
<rect x="407.50" y="218.45" width="9.00" height="76.05" fill="#fff" stroke="#808080" stroke-width="1.0" />
<line x1="409.75" y1="217.95" x2="414.75" y2="217.95" stroke="#8a8a8a" stroke-width="0.8" />
<rect x="419.40" y="220.07" width="9.20" height="74.43" fill="#000" stroke="none" stroke-width="1" />
<line x1="451.68" y1="294.50" x2="451.68" y2="296.10" stroke="#999" stroke-width="1" />
<text x="451.68" y="304.90" font-size="8.1" text-anchor="middle" font-weight="bold" font-style="normal" fill="#000" >10</text>
<rect x="441.50" y="218.86" width="9.00" height="75.64" fill="#fff" stroke="#808080" stroke-width="1.0" />
<line x1="443.50" y1="218.36" x2="448.50" y2="218.36" stroke="#8a8a8a" stroke-width="0.8" />
<line x1="484.78" y1="294.50" x2="484.78" y2="296.10" stroke="#999" stroke-width="1" />
<text x="484.78" y="304.90" font-size="8.1" text-anchor="middle" font-weight="bold" font-style="normal" fill="#000" >25</text>
<rect x="474.50" y="219.26" width="9.00" height="75.24" fill="#fff" stroke="#808080" stroke-width="1.0" />
<line x1="476.60" y1="218.76" x2="481.60" y2="218.76" stroke="#8a8a8a" stroke-width="0.8" />
<text x="453.20" y="316.00" font-size="9.0" text-anchor="middle" font-weight="bold" font-style="normal" fill="#000" >HCO<tspan font-size="5.5" dy="1.8">3</tspan><tspan dy="-1.8">- (mM)</tspan></text>
<line x1="445.25" y1="215.25" x2="457.50" y2="215.25" stroke="#333" stroke-width="1" />
<text x="451.25" y="215.26" font-size="8.6" text-anchor="middle" font-weight="bold" font-style="normal" fill="#000" font-family="DejaVu Sans, sans-serif" style="stroke-width:0.2px">****</text>
<line x1="479.00" y1="215.90" x2="491.00" y2="215.90" stroke="#333" stroke-width="1" />
<text x="484.80" y="215.91" font-size="8.6" text-anchor="middle" font-weight="bold" font-style="normal" fill="#000" font-family="DejaVu Sans, sans-serif" style="stroke-width:0.2px">***</text>
<rect x="490.05" y="242.85" width="5.50" height="5.30" fill="#fff" stroke="#222" stroke-width="0.9" />
<rect x="489.60" y="251.30" width="6.20" height="5.60" fill="#000" stroke="none" stroke-width="1" />
<text x="497.80" y="248.30" font-size="7.3" text-anchor="start" font-weight="bold" font-style="normal" fill="#000" >CA-MHB</text>
<text x="497.80" y="257.10" font-size="7.3" text-anchor="start" font-weight="bold" font-style="normal" fill="#000" >RPMI(10%LB)</text>
<text x="657.00" y="24.50" font-size="9.7" text-anchor="middle" font-weight="bold" font-style="normal" fill="#000" >Membrane permeability</text>
<text x="657.50" y="36.80" font-size="9.7" text-anchor="middle" font-weight="bold" font-style="italic" fill="#000" >mcr-1+ E. coli</text>
<line x1="603.20" y1="65.60" x2="603.20" y2="136.90" stroke="#999" stroke-width="1" />
<line x1="601.20" y1="136.40" x2="603.20" y2="136.40" stroke="#999" stroke-width="1" />
<text x="600.80" y="139.00" font-size="8.1" text-anchor="end" font-weight="bold" font-style="normal" fill="#000" >0</text>
<line x1="601.20" y1="118.70" x2="603.20" y2="118.70" stroke="#999" stroke-width="1" />
<text x="600.80" y="121.30" font-size="8.1" text-anchor="end" font-weight="bold" font-style="normal" fill="#000" >25</text>
<line x1="601.20" y1="101.00" x2="603.20" y2="101.00" stroke="#999" stroke-width="1" />
<text x="600.80" y="103.60" font-size="8.1" text-anchor="end" font-weight="bold" font-style="normal" fill="#000" >50</text>
<line x1="601.20" y1="83.30" x2="603.20" y2="83.30" stroke="#999" stroke-width="1" />
<text x="600.80" y="85.90" font-size="8.1" text-anchor="end" font-weight="bold" font-style="normal" fill="#000" >75</text>
<line x1="601.20" y1="65.60" x2="603.20" y2="65.60" stroke="#999" stroke-width="1" />
<text x="600.80" y="68.20" font-size="8.1" text-anchor="end" font-weight="bold" font-style="normal" fill="#000" >100</text>
<line x1="602.20" y1="136.40" x2="715.20" y2="136.40" stroke="#999" stroke-width="1" />
<line x1="623.40" y1="136.40" x2="623.40" y2="138.00" stroke="#999" stroke-width="1" />
<line x1="623.40" y1="110.77" x2="623.40" y2="111.48" stroke="#444" stroke-width="0.8" />
<line x1="618.90" y1="110.77" x2="627.90" y2="110.77" stroke="#444" stroke-width="0.8" />
<rect x="613.50" y="111.48" width="20.00" height="24.92" fill="#fff" stroke="#909090" stroke-width="1.0" />
<line x1="645.30" y1="136.40" x2="645.30" y2="138.00" stroke="#999" stroke-width="1" />
<line x1="645.30" y1="109.50" x2="645.30" y2="111.05" stroke="#444" stroke-width="0.8" />
<line x1="640.80" y1="109.50" x2="649.80" y2="109.50" stroke="#444" stroke-width="0.8" />
<rect x="635.50" y="111.05" width="19.60" height="25.35" fill="#000" stroke="none" stroke-width="1" />
<line x1="673.30" y1="136.40" x2="673.30" y2="138.00" stroke="#999" stroke-width="1" />
<line x1="673.30" y1="107.30" x2="673.30" y2="109.14" stroke="#444" stroke-width="0.8" />
<line x1="668.80" y1="107.30" x2="677.80" y2="107.30" stroke="#444" stroke-width="0.8" />
<rect x="663.50" y="109.14" width="20.00" height="27.26" fill="#fff" stroke="#909090" stroke-width="1.0" />
<line x1="695.35" y1="136.40" x2="695.35" y2="138.00" stroke="#999" stroke-width="1" />
<line x1="695.35" y1="66.31" x2="695.35" y2="67.72" stroke="#444" stroke-width="0.8" />
<line x1="690.85" y1="66.31" x2="699.85" y2="66.31" stroke="#444" stroke-width="0.8" />
<rect x="685.40" y="67.72" width="19.90" height="68.68" fill="#000" stroke="none" stroke-width="1" />
<text x="632.00" y="150.20" font-size="8.6" text-anchor="middle" font-weight="bold" font-style="normal" fill="#000" >CA-MHB</text>
<text x="685.00" y="150.20" font-size="8.6" text-anchor="middle" font-weight="bold" font-style="normal" fill="#000" >RPMI(10%LB)</text>
<text x="570.5" y="102" font-size="8.8" text-anchor="middle" font-weight="bold" transform="rotate(-90 570.5 102)">Outer membrane</text>
<text x="580.6" y="102" font-size="8.8" text-anchor="middle" font-weight="bold" transform="rotate(-90 580.6 102)">Permeability (%)</text>
<rect x="616.70" y="76.90" width="5.70" height="5.40" fill="#fff" stroke="#222" stroke-width="0.9" />
<rect x="616.30" y="85.30" width="6.50" height="5.90" fill="#000" stroke="none" stroke-width="1" />
<text x="624.70" y="82.60" font-size="7.3" text-anchor="start" font-weight="bold" font-style="normal" fill="#000" >No Abx</text>
<text x="624.70" y="91.20" font-size="7.3" text-anchor="start" font-weight="bold" font-style="normal" fill="#000" >COL 1</text>
<line x1="645.00" y1="48.50" x2="695.60" y2="48.50" stroke="#111" stroke-width="1" />
<text x="670.00" y="48.80" font-size="8.2" text-anchor="middle" font-weight="bold" font-style="normal" fill="#000" font-family="DejaVu Sans, sans-serif" style="stroke-width:0.2px">****</text>
<line x1="623.10" y1="59.80" x2="645.60" y2="59.80" stroke="#333" stroke-width="1" />
<text x="634.20" y="57.60" font-size="8.3" text-anchor="middle" font-weight="bold" font-style="normal" fill="#000" >n.s.</text>
<line x1="673.10" y1="59.80" x2="695.60" y2="59.80" stroke="#333" stroke-width="1" />
<text x="684.10" y="60.30" font-size="8.2" text-anchor="middle" font-weight="bold" font-style="normal" fill="#000" font-family="DejaVu Sans, sans-serif" style="stroke-width:0.2px">****</text>
<text x="661.30" y="185.00" font-size="9.7" text-anchor="middle" font-weight="bold" font-style="normal" fill="#000" >Bacterial surface charge</text>
<text x="662.20" y="196.80" font-size="9.7" text-anchor="middle" font-weight="bold" font-style="italic" fill="#000" >mcr1+ E. coli</text>
<line x1="603.20" y1="218.80" x2="603.20" y2="295.90" stroke="#999" stroke-width="1" />
<line x1="601.20" y1="295.40" x2="603.20" y2="295.40" stroke="#999" stroke-width="1" />
<text x="600.50" y="298.00" font-size="8.1" text-anchor="end" font-weight="bold" font-style="normal" fill="#000" >0</text>
<line x1="601.20" y1="276.25" x2="603.20" y2="276.25" stroke="#999" stroke-width="1" />
<text x="600.50" y="278.85" font-size="8.1" text-anchor="end" font-weight="bold" font-style="normal" fill="#000" >5</text>
<line x1="601.20" y1="257.10" x2="603.20" y2="257.10" stroke="#999" stroke-width="1" />
<text x="600.50" y="259.70" font-size="8.1" text-anchor="end" font-weight="bold" font-style="normal" fill="#000" >10</text>
<line x1="601.20" y1="237.95" x2="603.20" y2="237.95" stroke="#999" stroke-width="1" />
<text x="600.50" y="240.55" font-size="8.1" text-anchor="end" font-weight="bold" font-style="normal" fill="#000" >15</text>
<line x1="601.20" y1="218.80" x2="603.20" y2="218.80" stroke="#999" stroke-width="1" />
<text x="600.50" y="221.40" font-size="8.1" text-anchor="end" font-weight="bold" font-style="normal" fill="#000" >20</text>
<line x1="602.20" y1="295.40" x2="718.00" y2="295.40" stroke="#999" stroke-width="1" />
<line x1="634.90" y1="295.40" x2="634.90" y2="297.00" stroke="#999" stroke-width="1" />
<line x1="634.90" y1="220.33" x2="634.90" y2="225.31" stroke="#555" stroke-width="0.9" />
<line x1="627.40" y1="220.33" x2="642.40" y2="220.33" stroke="#555" stroke-width="0.9" />
<rect x="619.50" y="225.31" width="31.00" height="70.09" fill="#fff" stroke="#808080" stroke-width="1.0" />
<line x1="688.25" y1="295.40" x2="688.25" y2="297.00" stroke="#999" stroke-width="1" />
<line x1="688.25" y1="241.78" x2="688.25" y2="244.84" stroke="#555" stroke-width="0.9" />
<line x1="680.75" y1="241.78" x2="695.75" y2="241.78" stroke="#555" stroke-width="0.9" />
<rect x="672.50" y="244.84" width="31.50" height="50.56" fill="#000" stroke="none" stroke-width="1" />
<text x="635.20" y="312.80" font-size="8.4" text-anchor="middle" font-weight="bold" font-style="normal" fill="#000" >CA-MHB</text>
<text x="688.50" y="312.80" font-size="8.4" text-anchor="middle" font-weight="bold" font-style="normal" fill="#000" >RPMI(10%LB)</text>
<text x="574.1" y="254.5" font-size="8.9" text-anchor="middle" font-weight="bold" transform="rotate(-90 574.1 254.5)">Cytochrome C</text>
<text x="584.7" y="253.0" font-size="8.9" text-anchor="middle" font-weight="bold" transform="rotate(-90 584.7 253.0)">(% bound)</text>
<line x1="634.50" y1="215.40" x2="688.80" y2="215.40" stroke="#111" stroke-width="1" />
<text x="661.50" y="215.41" font-size="8.6" text-anchor="middle" font-weight="bold" font-style="normal" fill="#000" font-family="DejaVu Sans, sans-serif" style="stroke-width:0.2px">**</text>
</svg>
</body></html>
